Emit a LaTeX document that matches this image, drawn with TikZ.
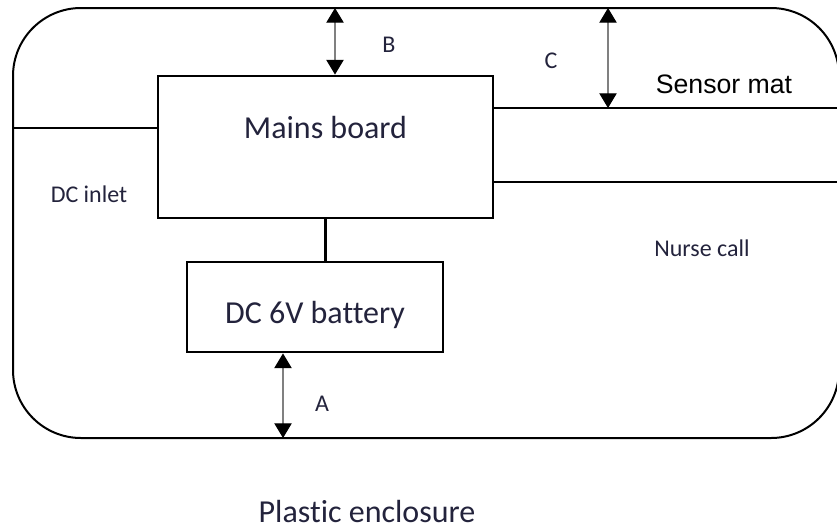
\documentclass[tikz,border=0pt]{standalone}
\usepackage{fontspec}
\newfontfamily\calibri[Ligatures=NoCommon]{Carlito}
\newfontfamily\arialf{Liberation Sans}
\usepackage{xcolor}
\usetikzlibrary{arrows.meta,positioning}
\definecolor{ink}{RGB}{35,35,60}
\tikzset{
	blk/.style={draw, line width=2.2pt, inner sep=0pt},
	shell/.style={draw, line width=1.5pt, rounded corners=51pt, inner sep=0pt},
	wire/.style={line width=2.2pt},
	thinwire/.style={line width=1.5pt},
	dimarr/.style={draw=gray, line width=0.8pt,
		{Triangle[width=13pt,length=11pt,color=black]}-{Triangle[width=13pt,length=11pt,color=black]}},
	txt/.style={font=\calibri\fontsize{24}{28}\selectfont, text=ink},
	big/.style={txt, anchor=base, inner sep=0pt},
	sml/.style={font=\calibri\fontsize{18}{21}\selectfont, text=ink, anchor=base, inner sep=0pt},
	matlbl/.style={font=\arialf\fontsize{20}{24}\selectfont, anchor=base, inner sep=0pt},
}
\begin{document}
\begin{tikzpicture}[x=0.75pt, y=-0.75pt]
	\useasboundingbox (0,0) rectangle (837,529);
	\node[shell, minimum width=619.5pt, minimum height=322.5pt] at (426,223) (encl) {};
	\node[blk, minimum width=251.25pt, minimum height=106.5pt] at (325.5,147) (mains) {};
	\node[blk, txt, text height=24pt, text depth=0pt, minimum width=192pt, minimum height=67.5pt] at (315,307) (batt) {DC 6V battery};
	% free ends on the enclosure
	\coordinate (dcin) at (13,128);
	\coordinate (matend) at (837,108);
	\coordinate (callend) at (837,182);
	\coordinate (btop) at (335,8);
	\coordinate (ctop) at (608,8);
	\coordinate (abot) at (283,438);
	\draw[thinwire] (dcin) -- (dcin -| mains.west);
	\draw[wire] (mains.east |- matend) -- (matend);
	\draw[wire] (mains.east |- callend) -- (callend);
	\draw[wire] (mains.south) -- (mains.south |- batt.north);
	\draw[dimarr] (btop) -- (btop |- mains.north);
	\draw[dimarr] (ctop) -- (ctop |- matend);
	\draw[dimarr] (batt.south -| abot) -- (abot);
	% labels
	\node[big] at (325.5,138) (mainslbl) {Mains board};
	\node[sml] at (89,202) (dclbl) {DC inlet};
	\node[sml] at (389,52) (blbl) {B};
	\node[sml] at (551,68) (clbl) {C};
	\node[sml] at (322,411) (albl) {A};
	\node[sml] at (702,256) (calllbl) {Nurse call};
	\node[matlbl] at (724,93) (matname) {Sensor mat};
	\node[big] at (367,522) (enclbl) {Plastic enclosure};
\end{tikzpicture}
\end{document}
